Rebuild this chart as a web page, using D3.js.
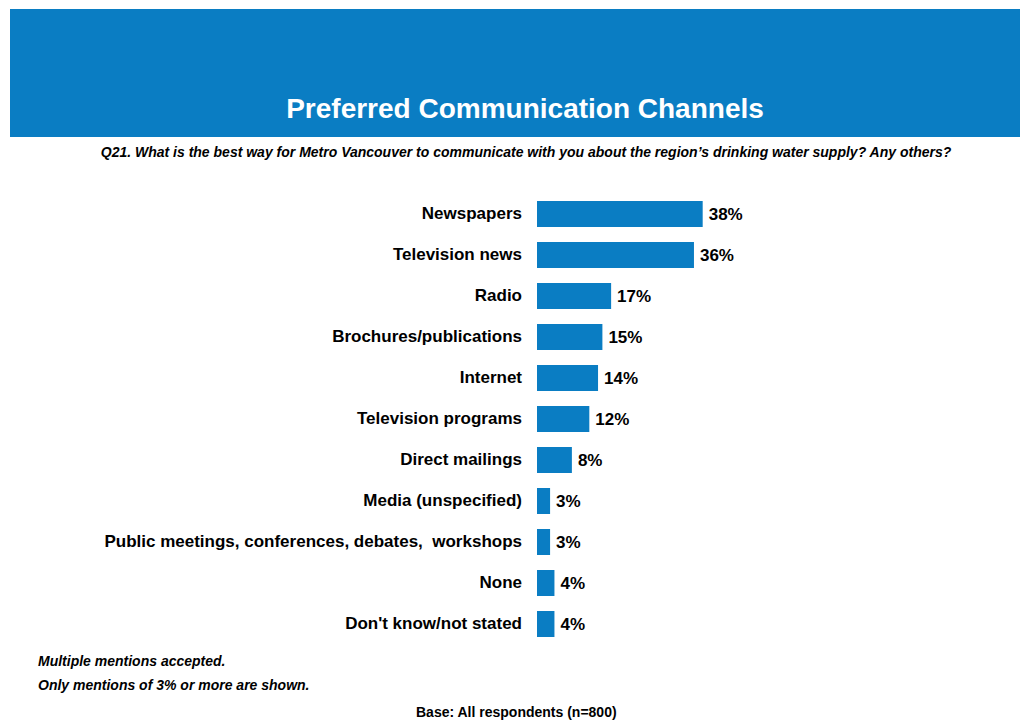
<!DOCTYPE html>
<html>
<head>
<meta charset="utf-8">
<script src="https://cdn.jsdelivr.net/npm/d3@7"></script>
<style>
  html, body { margin: 0; padding: 0; background: #fff; }
  svg { display: block; font-family: "Liberation Sans", Arial, Helvetica, sans-serif; }
  .cat text { white-space: pre; }
</style>
</head>
<body>
<svg id="chart" width="1020" height="721"></svg>
<script>
// Survey responses: share of respondents naming each channel (%)
const categories = [
  "Newspapers",
  "Television news",
  "Radio",
  "Brochures/publications",
  "Internet",
  "Television programs",
  "Direct mailings",
  "Media (unspecified)",
  "Public meetings, conferences, debates,  workshops",
  "None",
  "Don't know/not stated"
];
const values = [38, 36, 17, 15, 14, 12, 8, 3, 3, 4, 4];

const titleText = "Preferred Communication Channels";
const questionText = "Q21. What is the best way for Metro Vancouver to communicate with you about the region\u2019s drinking water supply? Any others?";
const notes = ["Multiple mentions accepted.", "Only mentions of 3% or more are shown."];
const baseText = "Base: All respondents (n=800)";

const blue = "#0A7DC3";
const svg = d3.select("#chart");

// Header banner
svg.append("rect")
  .attr("x", 10).attr("y", 9)
  .attr("width", 1010).attr("height", 128)
  .attr("fill", blue);

svg.append("text")
  .attr("x", 525).attr("y", 118)
  .attr("text-anchor", "middle")
  .attr("fill", "#fff")
  .attr("font-size", 28)
  .attr("font-weight", "bold")
  .text(titleText);

svg.append("text")
  .attr("x", 526).attr("y", 157)
  .attr("text-anchor", "middle")
  .attr("fill", "#000")
  .attr("font-size", 14)
  .attr("font-weight", "bold")
  .attr("font-style", "italic")
  .text(questionText);

// Scales
const x = d3.scaleLinear().domain([0, 100]).range([537, 537 + 436]);
const y = d3.scaleBand()
  .domain(categories)
  .range([193.5, 193.5 + 41 * categories.length])
  .paddingInner(15 / 41)
  .paddingOuter(15 / 82);

// Category axis (labels only, no line or ticks)
const yAxis = d3.axisLeft(y).tickSize(0).tickPadding(15);
const gy = svg.append("g")
  .attr("class", "cat")
  .attr("transform", `translate(${x(0)},0)`)
  .call(yAxis);
gy.select(".domain").remove();
gy.selectAll("text")
  .attr("font-family", "Liberation Sans, Arial, sans-serif")
  .attr("font-size", 17)
  .attr("font-weight", "bold")
  .attr("fill", "#000");

// Bars
const rows = categories.map((c, i) => ({ c, v: values[i] }));
svg.append("g").selectAll("rect")
  .data(rows)
  .join("rect")
  .attr("x", x(0))
  .attr("y", d => y(d.c))
  .attr("width", d => x(d.v) - x(0))
  .attr("height", y.bandwidth())
  .attr("fill", blue);

// Value labels
svg.append("g").selectAll("text")
  .data(rows)
  .join("text")
  .attr("x", d => x(d.v) + 6)
  .attr("y", d => y(d.c) + y.bandwidth() / 2)
  .attr("dy", "0.35em")
  .attr("font-size", 17)
  .attr("font-weight", "bold")
  .attr("fill", "#000")
  .text(d => d.v + "%");

// Footnotes
svg.append("g").selectAll("text")
  .data(notes)
  .join("text")
  .attr("x", 38)
  .attr("y", (d, i) => 666 + i * 24)
  .attr("font-size", 14)
  .attr("font-weight", "bold")
  .attr("font-style", "italic")
  .attr("fill", "#000")
  .text(d => d);

svg.append("text")
  .attr("x", 416).attr("y", 717)
  .attr("font-size", 14)
  .attr("font-weight", "bold")
  .attr("fill", "#000")
  .text(baseText);
</script>
</body>
</html>
